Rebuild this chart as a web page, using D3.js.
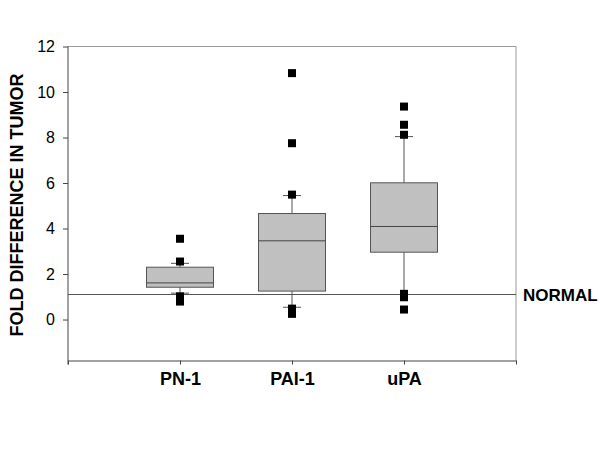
<!DOCTYPE html>
<html>
<head>
<meta charset="utf-8">
<script src="https://cdn.jsdelivr.net/npm/d3@7"></script>
<style>
  body { margin: 0; background: #fff; }
  svg { display: block; font-family: Arial, "Liberation Sans", sans-serif; }
</style>
</head>
<body>
<svg width="600" height="459"></svg>
<script>
// data
var categories = ["PN-1", "PAI-1", "uPA"];
var whiskerLow  = [1.16, 0.54, 1.10];
var boxLow      = [1.42, 1.25, 2.96];
var medians     = [1.61, 3.46, 4.09];
var boxHigh     = [2.30, 4.66, 6.01];
var whiskerHigh = [2.47, 5.45, 8.04];
var outliers = [
  [3.55, 2.55, 1.02, 0.79],
  [10.83, 7.75, 5.49, 0.48, 0.25],
  [9.36, 8.56, 8.12, 1.13, 0.98, 0.44]
];
var yTicks = [0, 2, 4, 6, 8, 10, 12];
var normalLevel = 1.1;

var svg = d3.select("svg");

var x = d3.scaleLinear().domain([0, 4]).range([68, 516]);
var y = d3.scaleLinear().domain([-1.8, 12]).range([360.5, 46.5]);

var boxW = 67, capW = 18;

// frame (top and right, lighter)
svg.append("line")
  .attr("x1", x(0)).attr("x2", x(4))
  .attr("y1", y(12)).attr("y2", y(12))
  .style("stroke", "#9a9a9a");
svg.append("line")
  .attr("x1", x(4)).attr("x2", x(4))
  .attr("y1", y(12)).attr("y2", y(-1.8))
  .style("stroke", "#9a9a9a");

// y axis
var yAxis = svg.append("g")
  .attr("transform", "translate(" + x(0) + ",0)")
  .call(d3.axisLeft(y).tickValues(yTicks).tickSize(5).tickPadding(8).tickSizeOuter(0));
yAxis.select(".domain").remove();
yAxis.append("line")
  .attr("y1", y(12)).attr("y2", y(-1.8) + 4)
  .style("stroke", "#444");
yAxis.selectAll(".tick line").style("stroke", "#444");
yAxis.selectAll(".tick text")
  .style("font-size", "16px")
  .style("fill", "#000");

// x axis
var xAxis = svg.append("g")
  .attr("transform", "translate(0," + y(-1.8) + ")")
  .call(d3.axisBottom(x).tickValues([0, 1, 2, 3, 4])
    .tickFormat(function(d) { return categories[d - 1] || ""; })
    .tickSize(4).tickPadding(8).tickSizeOuter(0));
xAxis.select(".domain").style("stroke", "#444");
xAxis.selectAll(".tick line").style("stroke", "#444");
xAxis.selectAll(".tick text")
  .style("font-size", "18px")
  .style("font-weight", "bold")
  .style("fill", "#000");

// normal line
svg.append("line")
  .attr("x1", x(0)).attr("x2", x(4))
  .attr("y1", y(normalLevel)).attr("y2", y(normalLevel))
  .style("stroke", "#555");
svg.append("text")
  .attr("x", x(4) + 7)
  .attr("y", y(normalLevel) + 6)
  .style("font-size", "17px")
  .style("font-weight", "bold")
  .text("NORMAL");

// boxes
var idx = d3.range(categories.length);
var g = svg.append("g");

g.selectAll(".whisker").data(idx).enter().append("line")
  .attr("x1", function(i) { return x(i + 1); })
  .attr("x2", function(i) { return x(i + 1); })
  .attr("y1", function(i) { return y(whiskerLow[i]); })
  .attr("y2", function(i) { return y(whiskerHigh[i]); })
  .style("stroke", "#555");

g.selectAll(".capLo").data(idx).enter().append("line")
  .attr("x1", function(i) { return x(i + 1) - capW / 2; })
  .attr("x2", function(i) { return x(i + 1) + capW / 2; })
  .attr("y1", function(i) { return y(whiskerLow[i]); })
  .attr("y2", function(i) { return y(whiskerLow[i]); })
  .style("stroke", "#555");

g.selectAll(".capHi").data(idx).enter().append("line")
  .attr("x1", function(i) { return x(i + 1) - capW / 2; })
  .attr("x2", function(i) { return x(i + 1) + capW / 2; })
  .attr("y1", function(i) { return y(whiskerHigh[i]); })
  .attr("y2", function(i) { return y(whiskerHigh[i]); })
  .style("stroke", "#555");

g.selectAll(".box").data(idx).enter().append("rect")
  .attr("x", function(i) { return x(i + 1) - boxW / 2; })
  .attr("y", function(i) { return y(boxHigh[i]); })
  .attr("width", boxW)
  .attr("height", function(i) { return y(boxLow[i]) - y(boxHigh[i]); })
  .style("fill", "#c0c0c0")
  .style("stroke", "#555");

g.selectAll(".median").data(idx).enter().append("line")
  .attr("x1", function(i) { return x(i + 1) - boxW / 2; })
  .attr("x2", function(i) { return x(i + 1) + boxW / 2; })
  .attr("y1", function(i) { return y(medians[i]); })
  .attr("y2", function(i) { return y(medians[i]); })
  .style("stroke", "#444");

// outliers
var pts = [];
outliers.forEach(function(list, i) {
  list.forEach(function(v) { pts.push([i + 1, v]); });
});
svg.append("g").selectAll("rect").data(pts).enter().append("rect")
  .attr("x", function(d) { return x(d[0]) - 4; })
  .attr("y", function(d) { return y(d[1]) - 4; })
  .attr("width", 8)
  .attr("height", 8)
  .style("fill", "#000");

// y label
svg.append("text")
  .attr("text-anchor", "middle")
  .attr("transform", "translate(23," + 205 + ")rotate(-90)")
  .style("font-size", "18px")
  .style("font-weight", "bold")
  .text("FOLD DIFFERENCE IN TUMOR");
</script>
</body>
</html>
